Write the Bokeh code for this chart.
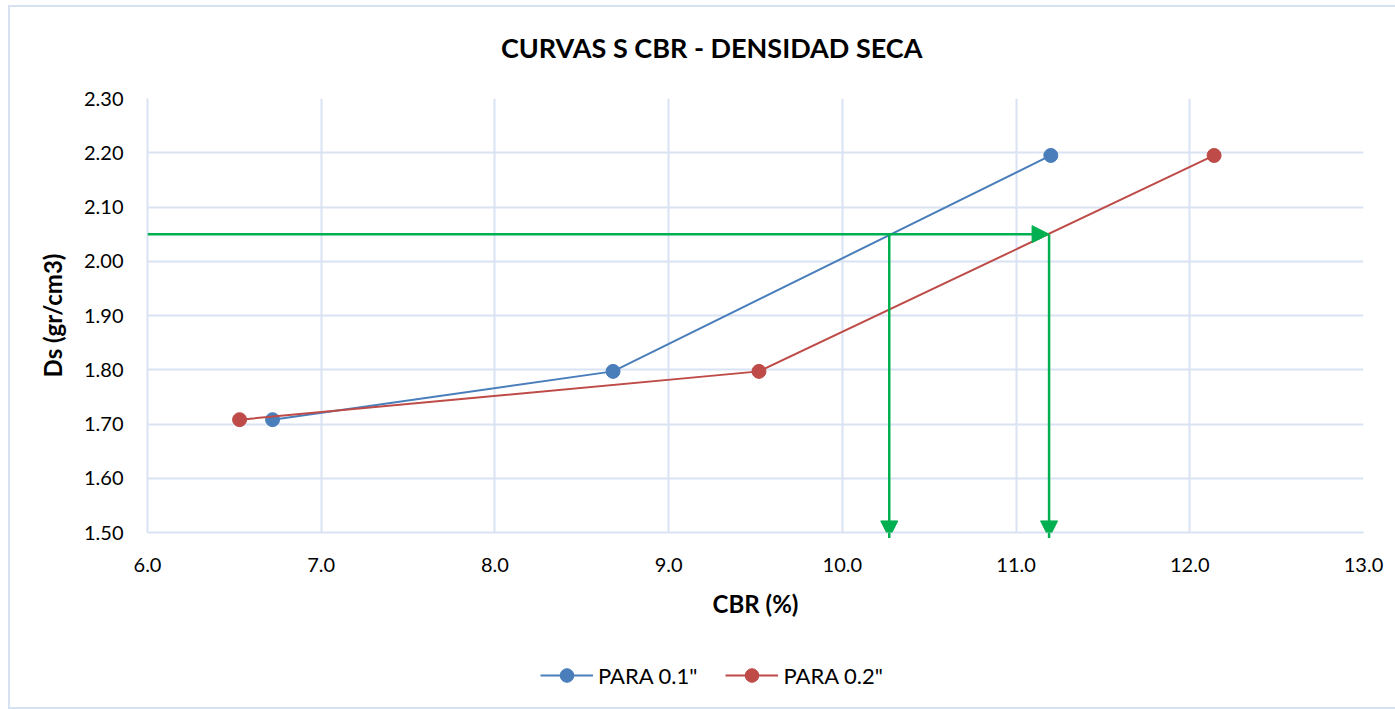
from bokeh.plotting import figure
from bokeh.layouts import column
from bokeh.models import (ColumnDataSource, Range1d, FixedTicker, Legend, LegendItem,
                          Arrow, NormalHead, Label, CustomJSTickFormatter)
from bokeh.embed import file_html
from bokeh.resources import INLINE

# ---- data ----
cbr_01 = [6.72, 8.68, 11.20]
ds_01 = [1.708, 1.797, 2.195]
cbr_02 = [6.53, 9.52, 12.14]
ds_02 = [1.708, 1.797, 2.195]

design_ds = 2.05
design_cbr_01 = 10.27
design_cbr_02 = 11.19
arrow_from_x = 6.0
arrow_to_y = 1.49

x_ticks = [6.0, 7.0, 8.0, 9.0, 10.0, 11.0, 12.0, 13.0]
y_ticks = [1.50, 1.60, 1.70, 1.80, 1.90, 2.00, 2.10, 2.20, 2.30]

series_labels = ['PARA 0.1"', 'PARA 0.2"']
title_text = "CURVAS S CBR - DENSIDAD SECA"

FONT = "Lato"
GRID = "#d9e3f3"
BLUE = "#4a7ebb"
RED = "#be4b48"
GREEN = "#00b050"
W = 1385

def strip(h):
    f = figure(width=W, height=h, output_backend="svg", toolbar_location=None,
               x_range=Range1d(0, 1), y_range=Range1d(0, 1),
               x_axis_type=None, y_axis_type=None,
               min_border_left=0, min_border_right=0, min_border_top=0,
               min_border_bottom=0)
    f.grid.visible = False
    f.outline_line_color = None
    return f

# ---- title strip (its frame is aligned with the chart frame by the column) ----
tf = strip(75)
tf.add_layout(Label(x=0.464, y=0.467, text=title_text, text_align="center",
                    text_baseline="middle", text_font=FONT, text_font_size="27px",
                    text_font_style="bold", text_color="#000000"))

# ---- main chart ----
p = figure(width=W, height=565, output_backend="svg", toolbar_location=None,
           x_range=Range1d(6.0, 13.0), y_range=Range1d(1.50, 2.30),
           min_border_left=137, min_border_right=32, min_border_top=16,
           min_border_bottom=115)
p.outline_line_color = None

p.xaxis.ticker = FixedTicker(ticks=x_ticks)
p.yaxis.ticker = FixedTicker(ticks=y_ticks)
p.xaxis.formatter = CustomJSTickFormatter(code="return tick.toFixed(1);")
p.yaxis.formatter = CustomJSTickFormatter(code="return tick.toFixed(2);")
for ax in (p.xaxis, p.yaxis):
    ax.major_tick_line_color = None
    ax.minor_tick_line_color = None
    ax.axis_line_color = GRID
    ax.axis_line_width = 2
    ax.major_label_text_font = FONT
    ax.major_label_text_font_size = "20px"
    ax.major_label_text_color = "#000000"
    ax.axis_label_text_font = FONT
    ax.axis_label_text_font_size = "24px"
    ax.axis_label_text_font_style = "bold"
    ax.axis_label_text_color = "#000000"
p.xaxis.axis_label = "CBR (%)"
p.yaxis.axis_label = "Ds (gr/cm3)"
p.xaxis.major_label_standoff = 19
p.yaxis.major_label_standoff = 18
p.xaxis.axis_label_standoff = 14
p.yaxis.axis_label_standoff = 14

p.xgrid.grid_line_color = GRID
p.ygrid.grid_line_color = GRID
p.xgrid.grid_line_width = 2
p.ygrid.grid_line_width = 2

s1 = ColumnDataSource(dict(x=cbr_01, y=ds_01))
s2 = ColumnDataSource(dict(x=cbr_02, y=ds_02))

p.line("x", "y", source=s1, line_color=BLUE, line_width=2)
p.scatter("x", "y", source=s1, size=14, fill_color=BLUE, line_color=BLUE)
p.line("x", "y", source=s2, line_color=RED, line_width=2)
p.scatter("x", "y", source=s2, size=14, fill_color=RED, line_color=RED)

def head():
    return NormalHead(size=17, fill_color=GREEN, line_color=GREEN)

p.add_layout(Arrow(end=head(), x_start=arrow_from_x, y_start=design_ds,
                   x_end=design_cbr_02, y_end=design_ds,
                   line_color=GREEN, line_width=2.5))
p.add_layout(Arrow(end=head(), x_start=design_cbr_01, y_start=design_ds,
                   x_end=design_cbr_01, y_end=arrow_to_y,
                   line_color=GREEN, line_width=2.5))
p.add_layout(Arrow(end=head(), x_start=design_cbr_02, y_start=design_ds,
                   x_end=design_cbr_02, y_end=arrow_to_y,
                   line_color=GREEN, line_width=2.5))

# ---- legend strip (series drawn off-frame, only their legend glyphs show) ----
lg = strip(60)
items = []
for lab, col, src in zip(series_labels, [BLUE, RED], [s1, s2]):
    rl = lg.line("x", "y", source=src, line_color=col, line_width=2)
    rc = lg.scatter("x", "y", source=src, size=14, fill_color=col, line_color=col)
    items.append(LegendItem(label=lab, renderers=[rl, rc]))

legend = Legend(items=items, orientation="horizontal", location=(393, 15),
                label_text_font=FONT, label_text_font_size="22px",
                label_text_color="#000000", glyph_width=53, glyph_height=34,
                label_standoff=5, spacing=28, padding=5, margin=0,
                border_line_color=None, background_fill_alpha=0)
lg.add_layout(legend, "center")

page = column(tf, p, lg, spacing=0)
page.styles = {"border": "2px solid #d6e1f1", "margin": "5px 0px 0px 8px"}

open("out.html", "w").write(file_html(page, INLINE))
